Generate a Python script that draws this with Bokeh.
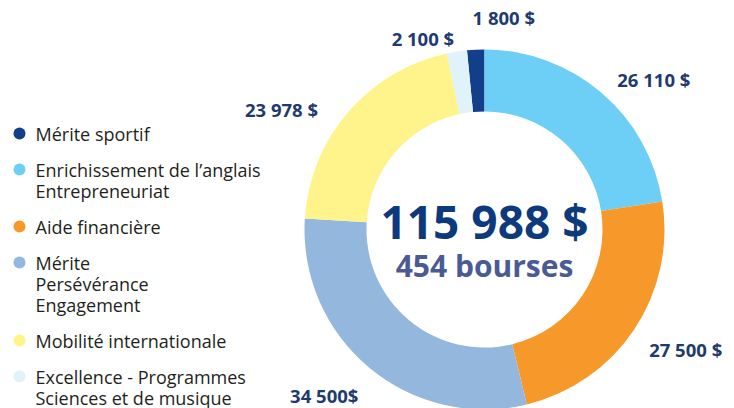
import math
from bokeh.plotting import figure
from bokeh.models import Range1d, ColumnDataSource
from bokeh.core.properties import value
from bokeh.embed import file_html
from bokeh.resources import INLINE

# ---- data ----
categories = ["Mérite sportif",
              "Enrichissement de l’anglais\nEntrepreneuriat",
              "Aide financière",
              "Mérite\nPersévérance\nEngagement",
              "Mobilité internationale",
              "Excellence - Programmes\nSciences et de musique"]
amounts = [1800, 26110, 27500, 34500, 23978, 2100]
value_labels = ["1 800 $", "26 110 $", "27 500 $", "34 500$", "23 978 $", "2 100 $"]
colors = ["#123E8A", "#6DCFF6", "#F7992A", "#94B7DE", "#FFF48C", "#E0F2FA"]
total_label = "115 988 $"
count_label = "454 bourses"

# ---- layout (screen pixels -> data units, y up) ----
W, H = 734, 408
def sy(y):  # screen y -> data y
    return H - y

cx, cy = 484, sy(229)
R_out, R_in = 180, 118

total = sum(amounts)
angles = [a / total * 2 * math.pi for a in amounts]
start0 = math.pi / 2 + angles[0]
starts, ends = [], []
cur = start0
for a in angles:
    starts.append(cur - a)
    ends.append(cur)
    cur -= a

p = figure(width=W, height=H, output_backend="svg", toolbar_location=None,
           x_range=Range1d(0, W), y_range=Range1d(0, H),
           min_border=0, outline_line_color=None)
p.axis.visible = False
p.grid.visible = False
p.background_fill_color = "white"

src = ColumnDataSource(dict(start=starts, end=ends, color=colors))
p.annular_wedge(x=cx, y=cy, inner_radius=R_in, outer_radius=R_out,
                start_angle="start", end_angle="end", color="color",
                line_color=None, source=src)

# value labels placed around the ring
label_r = [213, 226, 234, 231, 236, 201]
label_da = [-8, -8, 3, -4, 10, 9]  # degrees nudge
lx, ly = [], []
for s, e, r, da in zip(starts, ends, label_r, label_da):
    m = (s + e) / 2 + math.radians(da)
    lx.append(cx + r * math.cos(m))
    ly.append(cy + r * math.sin(m))
p.text(x=lx, y=ly, text=value_labels, text_align="center", text_baseline="middle",
       text_font=value("Open Sans"), text_font_style="bold", text_font_size="18.5px",
       text_color="#1F3A6E")

# centre text
p.text(x=[cx], y=[sy(220)], text=[total_label], text_align="center", text_baseline="middle",
       text_font=value("Open Sans"), text_font_style="bold", text_font_size="46px",
       text_color="#0D3A7C")
p.text(x=[cx], y=[sy(265)], text=[count_label], text_align="center", text_baseline="middle",
       text_font=value("Open Sans"), text_font_style="bold", text_font_size="30px",
       text_color="#4A5A94")

# legend
line_h = 21
gap = 36
ytop = 133
dot_x, txt_x = 19, 35
y = ytop
for cat, col in zip(categories, colors):
    lines = cat.split("\n")
    p.scatter(x=[dot_x], y=[sy(y)], size=12, color=col, line_color=None)
    for i, ln in enumerate(lines):
        p.text(x=[txt_x], y=[sy(y + i * line_h)], text=[ln], text_align="left",
               text_baseline="middle", text_font=value("Open Sans"),
               text_font_size="18px", text_color="#231F20")
    y += (len(lines) - 1) * line_h + gap

open("out.html", "w").write(file_html(p, INLINE))
